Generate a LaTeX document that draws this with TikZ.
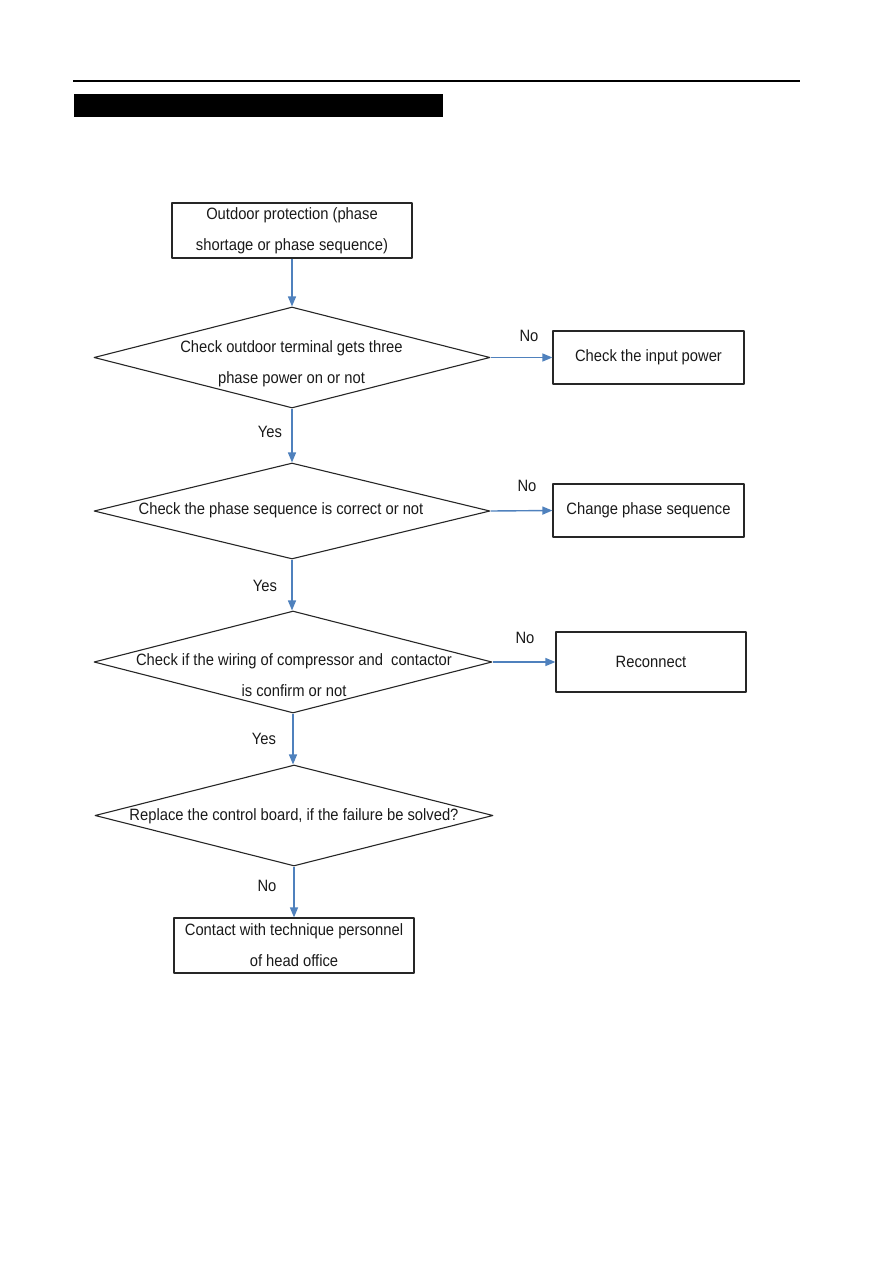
\documentclass[tikz,border=0pt]{standalone}
\usepackage{fontspec}
\setmainfont{Liberation Sans}[FakeStretch=0.9]
\usetikzlibrary{shapes.geometric,arrows.meta}
\definecolor{flowblue}{RGB}{79,129,189}
\tikzset{
  box/.style={draw=black!85, line width=1.2pt, inner sep=0pt},
  dia/.style={diamond, draw=black!85, line width=1.1pt, inner sep=0pt},
  txt/.style={align=center, text=black!90, font=\fontsize{16.4}{31}\selectfont},
  flow/.style={draw=flowblue, line width=1.4pt, -{Triangle[length=10pt,width=8pt]}},
}
\begin{document}
\begin{tikzpicture}[x=1pt, y=-1pt, line join=round]
	\useasboundingbox (0,0) rectangle (893,1263);
	
	% page header
	\draw[line width=1.4pt] (73,81) -- (800,81);
	\fill (74,94) rectangle (443,117);
	
	% boxes
	\node[box, txt, minimum width=240pt, minimum height=55pt] (start) at (292,230.5) {Outdoor protection (phase\\shortage or phase sequence)};
	\node[box, txt, minimum width=191pt, minimum height=53pt] (power) at (648.5,357.5) {Check the input power};
	\node[box, txt, minimum width=191pt, minimum height=53pt] (change) at (648.5,510.5) {Change phase sequence};
	\node[box, txt, minimum width=190pt, minimum height=60pt] (recon) at (651,662) {Reconnect};
	\node[box, txt, minimum width=240pt, minimum height=55pt] (contact) at (294,945.5) {Contact with technique personnel\\of head office};
	
	% decisions
	\node[dia, minimum width=396pt, minimum height=101pt] (D1) at (292,357.5) {};
	\node[dia, minimum width=396pt, minimum height=96pt] (D2) at (292,511) {};
	\node[dia, minimum width=398pt, minimum height=102pt] (D3) at (293,662) {};
	\node[dia, minimum width=398pt, minimum height=101pt] (D4) at (294,815.5) {};
	
	\node[txt] (D1t) at (291.5,364) {Check outdoor terminal gets three\\phase power on or not};
	\node[txt] (D2t) at (281,510) {Check the phase sequence is correct or not};
	\node[txt] (D3t) at (294,675) {Check if the wiring of compressor and\ \ contactor\\is confirm or not};
	\node[txt] (D4t) at (294,816) {Replace the control board, if the failure be solved?};
	
	% connectors
	\draw[flow] (start.south) -- (start.south |- D1.north);
	\draw[flow] (D1.south) -- (D1.south |- D2.north);
	\draw[flow] (D2.south) -- (D2.south |- D3.north);
	\draw[flow] (D3.south) -- (D3.south |- D4.north);
	\draw[flow] (D4.south) -- (D4.south |- contact.north);
	\draw[flow] (D1.east) -- (power.west);
	\draw[flow] (D2.east) -- (change.west);
	\draw[flow] (D3.east) -- (recon.west);
	
	\foreach \n/\t/\x/\y in {y1/Yes/270/432, y2/Yes/265/586, y3/Yes/264/739, n4/No/267/886,
		n1/No/529/336, n2/No/527/486, n3/No/525/638} {
		\node[txt] (\n) at (\x,\y) {\t};
	}
\end{tikzpicture}
\end{document}
